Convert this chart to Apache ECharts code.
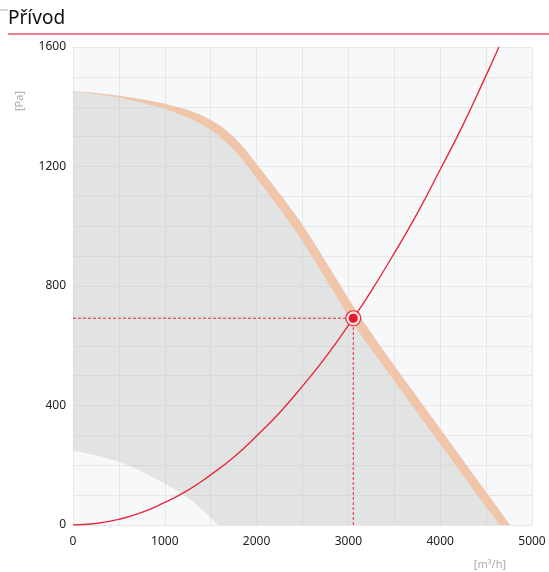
<!DOCTYPE html>
<html>
<head>
<meta charset="utf-8">
<script src="https://cdn.jsdelivr.net/npm/echarts@6/dist/echarts.min.js"></script>
<style>
html,body{margin:0;padding:0;background:#fff;}
#chart{width:549px;height:572px;}
</style>
</head>
<body>
<div id="chart"></div>
<script>
// Fan curve upper edge [m3/h, Pa]
var fanUpper = [[0,1452],[250,1446],[500,1437],[750,1425],[1000,1410],[1250,1389],[1375,1375],[1500,1356],[1625,1332],[1750,1300],[1875,1258],[2000,1208],[2250,1110],[2470,1018],[2650,933],[2840,838],[3000,758],[3144,689],[3400,576],[3597,492],[4070,292],[4400,152],[4760,0]];
// Fan curve lower edge
var fanLower = [[0,1450],[250,1443],[500,1431],[750,1414],[1000,1393],[1250,1364],[1375,1346],[1500,1323],[1625,1293],[1750,1258],[1875,1212],[2000,1161],[2250,1060],[2470,964],[2650,876],[2840,780],[3000,700],[3144,633],[3400,524],[3597,441],[4070,242],[4400,101],[4650,0]];
// Lower limit of working area
var minLimit = [[0,249],[250,233],[508,212],[750,180],[998,139],[1198,104],[1350,68],[1480,30],[1580,0]];
// System curve
var systemCurve = [[0,0],[250,5],[500,19],[750,42],[1000,76],[1250,116],[1500,168],[1750,227],[2000,298],[2250,376],[2500,465],[2750,561],[3053,692],[3250,784],[3500,910],[3750,1043],[4000,1190],[4250,1340],[4500,1505],[4640,1600]];
// Operating point
var operatingPoint = [3053, 692];
var xTickLabels = [0,1000,2000,3000,4000,5000];
var yTickLabels = [0,400,800,1200,1600];

var chart = echarts.init(document.getElementById('chart'), null, {renderer:'canvas'});
var FONT = 'Noto Sans';

function polyItem(pointsFn, fill){
  return function(params, api){
    var pts = pointsFn().map(function(p){ return api.coord(p); });
    return {type:'polygon', shape:{points:pts}, style:{fill:fill}};
  };
}
var grayPoly = function(){ return fanUpper.concat(minLimit.slice().reverse()); };
var bandPoly = function(){ return fanUpper.concat(fanLower.slice().reverse()); };

chart.setOption({
  animation:false,
  backgroundColor:'#ffffff',
  grid:{left:73,right:17,top:47,bottom:47,show:true,backgroundColor:'#f7f8fa',borderWidth:0},
  xAxis:{
    type:'value',min:0,max:5000,interval:500,
    axisLine:{show:false},axisTick:{show:false},
    splitLine:{show:true,lineStyle:{color:'#e6e7e9',width:1}},
    axisLabel:{margin:11,color:'#222',fontSize:12,fontFamily:FONT,
      formatter:function(v){return xTickLabels.indexOf(v)>=0?String(v):'';}}
  },
  yAxis:{
    type:'value',min:0,max:1600,interval:100,
    axisLine:{show:false},axisTick:{show:false},
    splitLine:{show:true,lineStyle:{color:'#e6e7e9',width:1}},
    axisLabel:{margin:7,color:'#222',fontSize:12,fontFamily:FONT,
      formatter:function(v){return yTickLabels.indexOf(v)>=0?String(v):'';}}
  },
  graphic:[
    {type:'text',left:8,top:9,style:{text:'Přívod',font:'19px "Noto Sans"',fill:'#111'}},
    {type:'line',shape:{x1:8,y1:34,x2:549,y2:34},style:{stroke:'#e8566a',lineWidth:1.5}},
    {type:'line',shape:{x1:0,y1:10,x2:8,y2:10},style:{stroke:'#aaa',lineWidth:1}},
    {type:'text',x:20,y:101,rotation:Math.PI/2,style:{text:'[Pa]',font:'11px "Noto Sans"',fill:'#aaa',textAlign:'center',textVerticalAlign:'middle'}},
    {type:'text',x:490,y:565,style:{text:'[m³/h]',font:'11px "Noto Sans"',fill:'#aaa',textAlign:'center',textVerticalAlign:'middle'}}
  ],
  series:[
    {type:'custom',data:[[0,0]],renderItem:polyItem(grayPoly,'rgba(195,198,195,0.4)'),silent:true,z:1,clip:true},
    {type:'custom',data:[[0,0]],renderItem:polyItem(bandPoly,'#f0c5a9'),silent:true,z:2,clip:true},
    {type:'line',data:systemCurve,smooth:true,showSymbol:false,lineStyle:{color:'#e8283c',width:1.4},z:3,clip:true},
    {type:'line',data:[[0,operatingPoint[1]],operatingPoint],showSymbol:false,lineStyle:{color:'#e8283c',width:1,type:[3,2]},z:3},
    {type:'line',data:[[operatingPoint[0],0],operatingPoint],showSymbol:false,lineStyle:{color:'#e8283c',width:1,type:[3,2]},z:3},
    {type:'scatter',data:[operatingPoint],symbolSize:15,itemStyle:{color:'rgba(255,230,232,0.8)',borderColor:'#e8283c',borderWidth:1.2,opacity:1},z:4},
    {type:'scatter',data:[operatingPoint],symbolSize:9,itemStyle:{color:'#e4192f',opacity:1},z:5}
  ]
});
</script>
</body>
</html>
